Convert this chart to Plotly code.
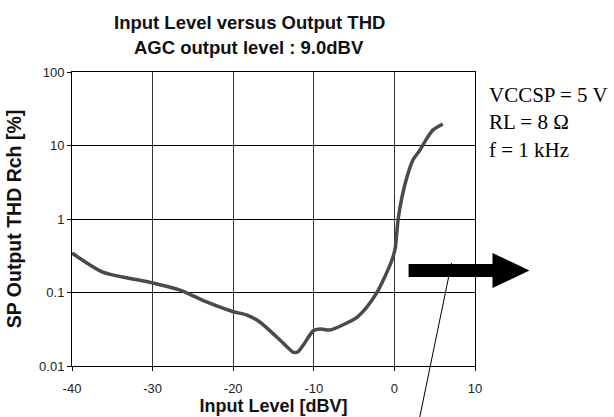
import plotly.graph_objects as go

# Input level sweep [dBV] and measured THD [%]
input_level = [-40.0, -36.2, -30.0, -26.6, -23.3, -20.0, -18.3, -16.7, -14.2,
               -12.6, -12.0, -11.3, -10.1, -9.2, -8.0, -5.9, -4.6, -3.4, -2.2,
               -1.2, -0.3, 0.1, 0.45, 0.94, 1.56, 2.3, 3.18, 4.05, 4.8, 6.0]
thd_percent = [0.344, 0.19, 0.135, 0.108, 0.0743, 0.0548, 0.0494, 0.0397, 0.0226,
               0.0155, 0.0155, 0.0193, 0.0299, 0.0318, 0.0309, 0.0385, 0.0464,
               0.0636, 0.0985, 0.163, 0.277, 0.40, 0.97, 1.99, 3.73, 6.35, 8.7,
               12.6, 16.3, 19.6]

x_ticks = [-40, -30, -20, -10, 0, 10]
x_tick_labels = ["-40", "-30", "-20", "-10", "0", "10"]
y_ticks = [0.01, 0.1, 1, 10, 100]
y_tick_labels = ["0.01", "0.1", "1", "10", "100"]

conditions = ["VCCSP = 5 V", "RL = 8 Ω", "f = 1 kHz"]

W, H = 614, 417
L, R, T, B = 72, 475.5, 72, 366

def fx(px):
    return (px - L) / (R - L)

def fy(py):
    return (B - py) / (B - T)

sans = "Liberation Sans, Arial, sans-serif"
serif = "Liberation Serif, Times New Roman, serif"

fig = go.Figure()
fig.add_trace(go.Scatter(
    x=input_level, y=thd_percent, mode="lines",
    line=dict(color="#4a4a4a", width=3.5, shape="spline", smoothing=0.6),
    showlegend=False, hoverinfo="skip",
))

fig.update_layout(
    width=W, height=H,
    margin=dict(l=L, r=W - R, t=T, b=H - B, pad=0, autoexpand=False),
    paper_bgcolor="white", plot_bgcolor="white",
    font=dict(family=sans, color="#222"),
    xaxis=dict(
        range=[-40, 10], tickvals=x_ticks, ticktext=x_tick_labels,
        ticks="outside", ticklen=4,
        tickcolor="black", showline=True, linecolor="black", linewidth=1,
        mirror=True, showgrid=True, gridcolor="#333", gridwidth=1,
        zeroline=False, ticklabelstandoff=6, automargin=False,
        tickfont=dict(size=13, family=sans, color="#222"),
        title=dict(text="<b>Input Level [dBV]</b>", standoff=1,
                   font=dict(size=18, family=sans, color="#111")),
    ),
    yaxis=dict(
        type="log", range=[-2, 2], tickvals=y_ticks, ticktext=y_tick_labels,
        ticks="outside", ticklen=4, tickcolor="black", showline=True,
        linecolor="black", linewidth=1, mirror=True, showgrid=True,
        gridcolor="black", gridwidth=1, automargin=False,
        tickfont=dict(size=13, family=sans, color="#222"),
        title=dict(text="<b>SP Output THD Rch [%]</b>", standoff=12,
                   font=dict(size=19.5, family=sans, color="#111")),
    ),
)

# Two-line chart title
fig.add_annotation(x=fx(249.5), y=fy(22), xref="paper", yref="paper",
                   text="<b>Input Level versus Output THD</b>", showarrow=False,
                   xanchor="center", yanchor="middle",
                   font=dict(size=18.5, family=sans, color="#111"))
fig.add_annotation(x=fx(249.5), y=fy(48), xref="paper", yref="paper",
                   text="<b>AGC output level : 9.0dBV</b>", showarrow=False,
                   xanchor="center", yanchor="middle",
                   font=dict(size=18.5, family=sans, color="#111"))

# Measurement conditions
fig.add_annotation(x=fx(488), y=fy(81), xref="paper", yref="paper",
                   text="<br>".join(conditions), showarrow=False,
                   xanchor="left", yanchor="top", align="left",
                   font=dict(size=21, family=serif, color="black"))

# Thick pointer arrow and thin leader line
fig.add_shape(type="line", xref="paper", yref="paper",
              x0=fx(452), y0=fy(263), x1=fx(420), y1=fy(418),
              line=dict(color="black", width=1))
fig.add_shape(type="rect", xref="paper", yref="paper",
              x0=fx(409), y0=fy(264), x1=fx(494), y1=fy(277),
              fillcolor="black", line=dict(width=0))
head = [(493, 253), (530, 270.5), (493, 288)]
path = "M {} {} L {} {} L {} {} Z".format(
    *[v for (px, py) in head for v in (fx(px), fy(py))])
fig.add_shape(type="path", xref="paper", yref="paper", path=path,
              fillcolor="black", line=dict(width=0))

fig.write_html("out.html")
